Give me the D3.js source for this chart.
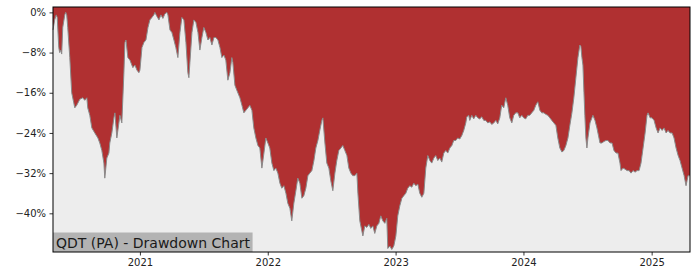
<!DOCTYPE html>
<html><head><meta charset="utf-8">
<script src="https://cdn.jsdelivr.net/npm/d3@7"></script>
<style>html,body{margin:0;padding:0;background:#fff;}svg{display:block;font-family:"DejaVu Sans",sans-serif;}</style>
</head><body>
<script>
// decimal-year dates
const dates = [2020.322,2020.335,2020.347,2020.355,2020.367,2020.374,2020.382,2020.390,2020.398,2020.414,2020.421,2020.429,2020.437,2020.453,2020.468,2020.484,2020.492,2020.507,2020.531,2020.554,2020.570,2020.586,2020.593,2020.609,2020.625,2020.648,2020.672,2020.687,2020.703,2020.719,2020.726,2020.734,2020.742,2020.758,2020.765,2020.781,2020.797,2020.805,2020.820,2020.836,2020.844,2020.859,2020.875,2020.883,2020.891,2020.906,2020.922,2020.945,2020.961,2020.977,2020.992,
2021.000,2021.016,2021.031,2021.047,2021.063,2021.078,2021.094,2021.109,2021.117,2021.133,2021.149,2021.164,2021.180,2021.195,2021.211,2021.219,2021.235,2021.250,2021.266,2021.281,2021.297,2021.313,2021.328,2021.344,2021.360,2021.375,2021.383,2021.391,2021.407,2021.422,2021.438,2021.454,2021.469,2021.485,2021.500,2021.516,2021.532,2021.547,2021.563,2021.579,2021.594,2021.610,2021.626,2021.641,2021.657,2021.672,2021.688,2021.704,2021.719,2021.727,2021.743,2021.758,2021.782,2021.798,2021.813,2021.829,2021.845,2021.860,2021.876,2021.891,2021.907,2021.923,2021.938,2021.954,2021.970,2021.985,
2022.001,2022.016,2022.032,2022.048,2022.063,2022.079,2022.095,2022.110,2022.126,2022.142,2022.157,2022.173,2022.188,2022.204,2022.220,2022.235,2022.251,2022.267,2022.282,2022.298,2022.314,2022.329,2022.345,2022.361,2022.376,2022.392,2022.407,2022.423,2022.431,2022.447,2022.462,2022.478,2022.493,2022.509,2022.525,2022.540,2022.556,2022.572,2022.587,2022.603,2022.619,2022.634,2022.650,2022.665,2022.681,2022.697,2022.705,2022.720,2022.736,2022.744,2022.759,2022.775,2022.791,2022.806,2022.822,2022.837,2022.853,2022.869,2022.884,2022.900,2022.916,2022.931,2022.939,2022.955,2022.970,2022.986,
2023.002,2023.017,2023.033,2023.049,2023.064,2023.080,2023.095,2023.111,2023.127,2023.142,2023.158,2023.174,2023.189,2023.205,2023.221,2023.236,2023.252,2023.268,2023.283,2023.299,2023.314,2023.330,2023.346,2023.361,2023.377,2023.393,2023.408,2023.424,2023.440,2023.455,2023.471,2023.486,2023.502,2023.518,2023.533,2023.549,2023.557,2023.572,2023.580,2023.596,2023.611,2023.627,2023.643,2023.658,2023.674,2023.690,2023.705,2023.721,2023.737,2023.752,2023.768,2023.784,2023.799,2023.815,2023.830,2023.846,2023.862,2023.877,2023.893,2023.909,2023.924,2023.940,2023.956,2023.971,2023.987,
2024.002,2024.018,2024.034,2024.049,2024.065,2024.081,2024.096,2024.112,2024.128,2024.143,2024.159,2024.174,2024.190,2024.206,2024.221,2024.237,2024.253,2024.268,2024.284,2024.300,2024.315,2024.331,2024.347,2024.362,2024.378,2024.393,2024.409,2024.425,2024.440,2024.448,2024.456,2024.464,2024.472,2024.479,2024.487,2024.495,2024.503,2024.519,2024.534,2024.542,2024.558,2024.573,2024.589,2024.597,2024.612,2024.628,2024.644,2024.659,2024.675,2024.691,2024.706,2024.722,2024.737,2024.753,2024.761,2024.777,2024.792,2024.808,2024.824,2024.839,2024.855,2024.871,2024.886,2024.902,2024.917,2024.933,2024.949,2024.964,2024.972,2024.988,
2025.003,2025.019,2025.035,2025.050,2025.066,2025.082,2025.097,2025.113,2025.128,2025.144,2025.160,2025.175,2025.191,2025.207,2025.222,2025.238,2025.254,2025.269,2025.277,2025.285,2025.300];

// drawdown in percent
const drawdown = [-3.5,-1.5,-0.5,-1,-7,-8,-7.5,-8.3,-3,-0.5,0,-0.5,-3,-9,-16,-18,-19,-18.5,-17.3,-17,-17.5,-17,-19,-20.5,-23,-24,-25,-26,-27.5,-30,-33,-31,-29,-28,-26,-24,-21,-20,-25,-22,-20.5,-22,-12,-6,-5.5,-9,-9.5,-11,-10.5,-11.5,-12,
-11.5,-7,-6,-5.5,-3,-1.5,-1,-0.5,0,-0.8,-1.5,-0.5,-1.2,-0.3,0,-0.5,-3.5,-4,-5.5,-7,-9,-4,-1,-1.5,-6,-12,-13,-10,-4,-1.5,-2,-4,-7.5,-5,-3,-4,-5.5,-5,-6.5,-5,-5,-5.5,-7,-9,-8.5,-9.5,-13.5,-12,-9,-10,-14.5,-15.5,-17,-18.5,-20,-19.5,-19,-18.5,-19.5,-23,-25,-26.5,-27,-31,-28,-25,
-26,-27,-30,-31.5,-31,-32,-34,-35,-34.5,-36,-38,-39,-41.5,-38,-35.5,-33,-34,-37,-36.5,-35,-32.5,-32,-31.5,-29.5,-27,-25.5,-23.5,-21.5,-21,-26,-30,-31,-33.5,-35.5,-32,-29.5,-27.5,-27,-26.5,-27.5,-28.5,-31,-32,-32.5,-32.5,-32,-36,-41.5,-43.5,-44.5,-42.5,-42.8,-42.2,-43,-42.5,-44,-42.5,-42,-40.5,-41.5,-42,-41,-47,-46.5,-47.2,-46.5,
-44.5,-40.5,-38.5,-37,-36.5,-36,-35,-34.5,-34.8,-34,-34.5,-34.2,-36,-36.8,-36,-31,-28.5,-29.5,-30,-29,-28.5,-29.5,-29,-29.8,-28,-27.5,-28,-27,-26.5,-25.5,-25.5,-25,-25.2,-24.5,-23.5,-22,-20.8,-20.5,-21.5,-20.5,-21.2,-20.5,-21,-21.2,-20.8,-21.5,-21.5,-22,-21.8,-22.3,-22,-21.5,-22.2,-21,-18.5,-19,-17,-18.5,-21,-22,-20.5,-20,-20,-21,-20.5,
-21,-21.2,-20.5,-20.5,-20,-19.5,-18.5,-17.8,-19.5,-20,-20,-20.3,-20.5,-21,-21.5,-22,-22.5,-25,-27,-27.8,-27.5,-26.5,-25,-22.5,-20,-17,-13,-9,-6.5,-6.8,-9,-10.5,-16,-20.5,-25,-27,-25,-22,-21,-20.5,-21.5,-23,-25,-26,-26,-25.7,-25.5,-25.5,-26,-26,-27.5,-28,-28,-30,-31.5,-31,-31.2,-31.5,-31.5,-32,-31.5,-31.8,-31.5,-31.5,-30,-27,-24,-20.5,-20,-21,
-21,-21.5,-23,-24,-23,-23.5,-23,-24,-23.5,-24,-24,-25,-27,-28.5,-29.5,-31,-32.5,-34.5,-33.5,-32.5,-32.5];

const yTicks = [0, -8, -16, -24, -32, -40];
const xTickYears = [2021, 2022, 2023, 2024, 2025];
const title = "QDT (PA) - Drawdown Chart";

function toDate(dy) {
  const y = Math.floor(dy);
  const start = new Date(y, 0, 1), end = new Date(y + 1, 0, 1);
  return new Date(start.getTime() + (dy - y) * (end - start));
}

const data = dates.map((d, i) => ({ date: toDate(d), v: drawdown[i] }));

const W = 700, H = 280;
const m = { left: 53, right: 10, top: 7, bottom: 28 };
const svg = d3.select("body").append("svg").attr("width", W).attr("height", H);

const x = d3.scaleTime().domain(d3.extent(data, d => d.date)).range([m.left, W - m.right]);
const y = d3.scaleLinear().domain([-47.7, 1.07]).range([H - m.bottom, m.top]);

// background (red above curve)
svg.append("rect").attr("x", m.left).attr("y", m.top)
  .attr("width", W - m.left - m.right).attr("height", H - m.top - m.bottom)
  .attr("fill", "#b03031");

const g = svg.append("g");
const area = d3.area().x(d => x(d.date)).y0(H - m.bottom).y1(d => y(d.v));
g.append("path").datum(data).attr("d", area).attr("fill", "#ededed");
const line = d3.line().x(d => x(d.date)).y(d => y(d.v));
g.append("path").datum(data).attr("d", line).attr("fill", "none")
  .attr("stroke", "#8a8a8a").attr("stroke-width", 1);

// label box
const lbl = svg.append("g");
const t = lbl.append("text").attr("x", m.left + 3).attr("y", H - m.bottom - 4.5)
  .attr("font-size", 14).attr("fill", "#1a1a1a").text(title);
const bb = t.node().getBBox();
lbl.insert("rect", "text").attr("x", m.left).attr("y", H - m.bottom - 19.5)
  .attr("width", bb.width + 5).attr("height", 19.5).attr("fill", "#b3b3b3");

// axes
const fmt = v => (v < 0 ? "\u2212" : "") + Math.abs(v) + "%";
const yAxis = d3.axisLeft(y).tickValues(yTicks).tickFormat(fmt).tickSize(3.5).tickPadding(3.5);
const xAxis = d3.axisBottom(x).tickValues(xTickYears.map(yr => new Date(yr, 0, 1)))
  .tickFormat(d3.timeFormat("%Y")).tickSize(3.5).tickPadding(3.5);

const ya = svg.append("g").attr("transform", `translate(${m.left},0)`).call(yAxis);
const xa = svg.append("g").attr("transform", `translate(0,${H - m.bottom})`).call(xAxis);
[ya, xa].forEach(a => {
  a.select(".domain").remove();
  a.selectAll("text").attr("font-size", 10).attr("fill", "#222").attr("font-family", "DejaVu Sans");
  a.selectAll("line").attr("stroke", "#000").attr("stroke-width", 0.8);
});

// frame
svg.append("rect").attr("x", m.left).attr("y", m.top)
  .attr("width", W - m.left - m.right).attr("height", H - m.top - m.bottom)
  .attr("fill", "none").attr("stroke", "#000").attr("stroke-width", 1);
</script>
</body></html>
